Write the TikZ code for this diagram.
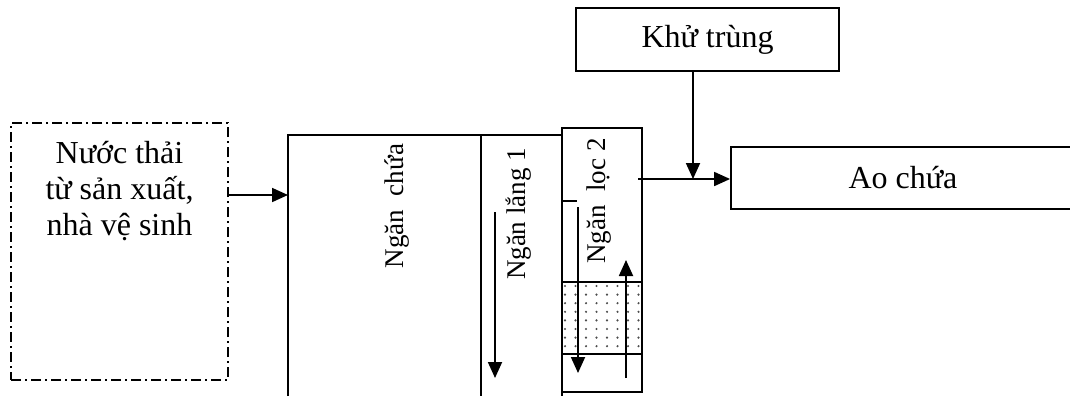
\documentclass[tikz,border=0pt]{standalone}
\usepackage{fontspec}
\setmainfont{Liberation Serif}
\usetikzlibrary{arrows.meta}

\tikzset{
  wall/.style={line width=0.9pt},
  flow/.style={line width=0.9pt, -{Triangle[length=8pt,width=7pt]}},
  boxnode/.style={draw, line width=0.9pt, inner sep=0pt},
  srcbox/.style={draw, line width=0.8pt, inner sep=0pt,
    dash pattern=on 5pt off 2pt on 1pt off 2pt},
  bigtext/.style={font=\fontsize{16}{18}\selectfont},
  sidetext/.style={font=\fontsize{13.5}{16}\selectfont, rotate=90, anchor=base, inner sep=0pt},
  sanddot/.style={fill=black!70, draw=none},
}

\begin{document}
\begin{tikzpicture}[x=0.5pt, y=-0.5pt]
  \clip (0,0) rectangle (1070,396);
  \fill[white] (0,0) rectangle (1070,396);

  % wastewater source
  \node[srcbox, minimum width=108.5pt, minimum height=128.5pt] (src) at (119.5,251.5) {};
  \node[bigtext, align=center, anchor=base, inner sep=0pt] (srctext) at (119.5,235)
    {Nước thải\\từ sản xuất,\\nhà vệ sinh};

  % storage and settling chambers (open at the bottom)
  \coordinate (tankin) at (288,195);
  \draw[wall] (288,396) -- (288,135) -- (562,135);
  \draw[wall] (481,135) -- (481,396);
  \node[sidetext] (chua) at (403,206) {Ngăn\ \ chứa};
  \node[sidetext] (lang) at (525,214) {Ngăn lắng 1};

  % filter chamber with sand layer
  \fill[white] (562,282) rectangle (642,354);
  \begin{scope}
    \clip (563,283) rectangle (641,353);
    \foreach \i in {0,...,7}
      \foreach \j in {0,...,7}
        \fill[sanddot] (565+10.5*\i, 286+8.6*\j) circle (1.2);
  \end{scope}
  \node[boxnode, minimum width=40pt, minimum height=132pt] (loc) at (602,260) {};
  \draw[wall] (562,392) -- (562,396);
  \draw[wall] (562,282) -- (642,282);
  \draw[wall] (562,354) -- (642,354);
  \draw[wall] (562,201) -- (577,201);
  \node[sidetext] (loctext) at (605,201) {Ngăn\ \ lọc 2};

  % flow inside the chambers
  \coordinate (l1a) at (495,212);
  \coordinate (l1b) at (495,378);
  \coordinate (f1a) at (578,207);
  \coordinate (f1b) at (578,373);
  \coordinate (f2a) at (626,378);
  \coordinate (f2b) at (626,260);
  \draw[flow] (l1a) -- (l1b);
  \draw[flow] (f1a) -- (f1b);
  \draw[flow] (f2a) -- (f2b);

  % disinfection and pond
  \node[boxnode, bigtext, minimum width=131.5pt, minimum height=31.5pt] (kt) at (707.5,39.5) {Khử trùng};
  \node[boxnode, bigtext, minimum width=172pt, minimum height=31pt] (ao) at (903,178) {Ao chứa};
  \coordinate (outlet) at (638,179);
  \coordinate (dose) at (693,179);

  % connectors
  \draw[flow] (src.east |- tankin) -- (tankin);
  \draw[flow] (outlet) -- (ao.west |- outlet);
  \draw[flow] (kt.south -| dose) -- (dose);
\end{tikzpicture}
\end{document}
